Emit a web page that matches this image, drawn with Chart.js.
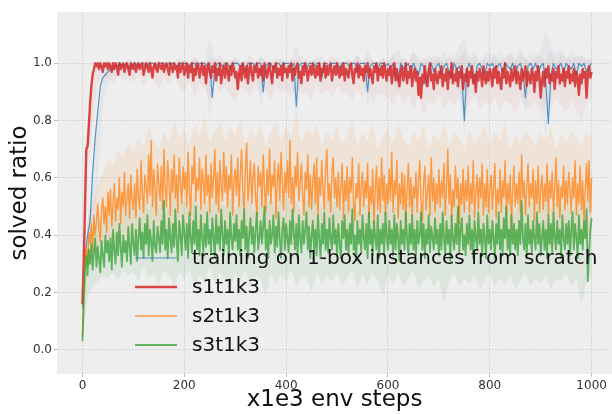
<!DOCTYPE html>
<html>
<head>
<meta charset="utf-8">
<script src="https://cdn.jsdelivr.net/npm/chart.js@4/dist/chart.umd.min.js"></script>
<style>
  body { margin: 0; background: #fff; }
</style>
</head>
<body>
<canvas id="chart" width="612" height="414"></canvas>
<script>
// x-achse: steg (x1e3 env steps). s-serierna var 2.5:e steg, scratch var 5:e, band var 10:e
const denseStep = 2.5;
const scratchStep = 5;
const bandStep = 10;
const xTicks = [0, 200, 400, 600, 800, 1000];
const yTicks = [0.0, 0.2, 0.4, 0.6, 0.8, 1.0];
const labels = ['training on 1-box instances from scratch', 's1t1k3', 's2t1k3', 's3t1k3'];

// medelvärden
const scratch = [
  0.15,0.33,0.40,0.45,0.62,0.74,0.83,0.92,0.95,0.96,0.97,0.98,
  0.98,0.99,0.99,1.0,0.99,1.0,0.99,0.98,1.0,1.0,
  0.99,1.0,1.0,0.99,1.0,1.0,1.0,0.99,1.0,1.0,
  1.0,0.99,1.0,1.0,1.0,0.99,1.0,1.0,1.0,
  1.0,0.99,1.0,1.0,0.98,1.0,1.0,1.0,0.99,1.0,
  0.88,0.98,1.0,1.0,0.99,1.0,1.0,0.98,1.0,1.0,
  1.0,0.99,1.0,0.97,1.0,1.0,1.0,0.99,1.0,1.0,
  0.90,0.99,1.0,1.0,0.98,1.0,1.0,0.99,1.0,1.0,
  1.0,0.99,1.0,0.85,0.99,1.0,1.0,0.98,1.0,1.0,
  0.99,1.0,1.0,0.95,1.0,1.0,0.99,1.0,1.0,1.0,
  0.98,1.0,1.0,1.0,0.99,1.0,1.0,0.97,1.0,1.0,
  1.0,0.90,0.99,1.0,1.0,0.98,1.0,1.0,0.99,1.0,
  0.98,1.0,0.96,0.94,1.0,0.98,0.99,1.0,0.97,1.0,
  0.98,0.96,1.0,0.99,0.92,0.98,1.0,0.97,0.99,1.0,
  0.96,0.99,1.0,0.97,0.95,1.0,0.98,0.99,0.96,0.80,
  0.98,1.0,0.97,0.93,0.99,1.0,0.98,0.96,1.0,0.99,
  1.0,0.98,0.99,1.0,0.97,1.0,0.99,0.98,1.0,0.96,
  0.99,1.0,0.97,0.88,0.99,1.0,0.98,1.0,0.97,0.99,
  1.0,0.93,0.79,0.96,1.0,0.98,0.99,1.0,0.97,1.0,
  0.99,0.98,1.0,0.96,1.0,0.99,1.0,0.97,0.99,1.0
];
const s1t1k3 = [
  0.16,
  0.30,0.50,0.70,0.71,0.78,0.86,0.92,0.96,0.98,1.0,0.99,1.0,0.98,1.0,0.99,0.97,1.0,0.99,1.0,0.98,
  1.0,0.99,0.97,1.0,0.98,1.0,0.99,0.96,1.0,0.98,0.99,1.0,0.97,0.99,1.0,0.98,0.96,1.0,0.99,0.98,
  1.0,0.97,0.99,1.0,0.98,0.99,1.0,0.96,0.98,1.0,0.99,0.97,1.0,0.98,0.95,0.99,1.0,0.98,0.97,1.0,
  0.99,0.98,1.0,0.97,0.99,1.0,0.98,0.96,1.0,0.99,0.97,1.0,0.98,0.99,0.95,1.0,0.97,0.99,1.0,0.96,
  0.98,1.0,0.95,0.99,0.97,1.0,0.94,0.98,0.96,1.0,0.99,0.95,0.98,1.0,0.96,0.99,0.93,0.98,1.0,0.97,
  0.95,0.99,0.97,1.0,0.94,0.98,0.96,1.0,0.93,0.97,0.99,0.95,1.0,0.97,0.94,0.99,0.96,1.0,0.98,0.95,
  0.97,0.91,0.96,0.99,0.94,1.0,0.97,0.95,0.99,0.93,0.98,1.0,0.96,0.94,0.99,0.97,1.0,0.95,0.98,0.96,
  0.99,0.94,1.0,0.97,0.95,0.98,1.0,0.96,0.93,0.99,0.97,1.0,0.95,0.98,0.96,0.99,0.94,1.0,0.97,0.98,
  0.95,0.99,0.97,1.0,0.94,0.98,0.96,0.99,1.0,0.95,0.97,0.93,0.99,0.96,1.0,0.98,0.94,0.97,0.99,0.96,
  1.0,0.97,0.95,0.99,0.96,1.0,0.94,0.98,0.97,1.0,0.95,0.99,0.96,0.98,1.0,0.94,0.97,0.99,0.96,1.0,
  0.97,0.95,0.99,0.96,1.0,0.94,0.98,0.97,0.95,0.99,1.0,0.96,0.93,0.98,0.97,1.0,0.95,0.99,0.96,0.98,
  0.94,0.99,0.97,1.0,0.95,0.98,0.96,0.93,0.99,0.97,1.0,0.94,0.98,0.96,0.99,0.95,1.0,0.97,0.94,0.98,
  0.96,0.99,0.93,0.97,1.0,0.94,0.98,0.95,0.92,0.97,0.99,0.94,0.96,1.0,0.93,0.97,0.95,0.99,0.92,0.96,
  0.98,0.94,0.97,0.89,0.95,0.88,0.96,0.93,0.99,0.95,0.92,0.97,1.0,0.94,0.96,0.91,0.98,0.95,0.93,0.97,
  0.95,0.99,0.92,0.96,0.94,0.98,0.91,0.97,0.95,1.0,0.93,0.96,0.94,0.98,0.92,0.97,0.95,0.99,0.91,0.96,
  0.94,0.98,0.92,0.97,0.95,0.99,0.93,0.96,0.90,0.97,0.94,0.98,0.96,0.92,0.99,0.95,0.93,0.97,0.94,0.98,
  0.96,0.92,0.98,0.95,0.99,0.93,0.97,0.94,0.91,0.98,0.95,1.0,0.93,0.97,0.95,0.92,0.98,0.94,0.96,0.99,
  0.93,0.97,0.95,0.91,0.98,0.94,0.96,0.99,0.92,0.97,0.95,0.93,0.98,0.96,0.90,0.97,0.94,0.99,0.95,0.88,
  0.94,0.97,0.92,0.98,0.95,0.99,0.93,0.96,0.94,0.98,0.91,0.97,0.95,0.99,0.93,0.96,0.94,0.98,0.92,0.97,
  0.95,0.99,0.93,0.96,0.94,0.98,0.92,0.97,0.95,0.89,0.96,0.93,0.98,0.95,0.97,0.88,0.96,0.99,0.95,0.97
];
const s2t1k3 = [
  0.05,
  0.20,0.32,0.36,0.30,0.41,0.37,0.44,0.35,0.47,0.40,0.45,0.51,0.42,0.38,0.49,0.53,0.44,0.50,0.41,0.55,
  0.47,0.56,0.43,0.51,0.58,0.45,0.53,0.49,0.60,0.44,0.55,0.50,0.62,0.47,0.53,0.58,0.46,0.61,0.52,0.49,
  0.58,0.46,0.63,0.53,0.49,0.66,0.55,0.48,0.61,0.57,0.51,0.68,0.54,0.73,0.50,0.63,0.56,0.47,0.65,0.58,
  0.52,0.64,0.49,0.70,0.57,0.50,0.66,0.59,0.47,0.63,0.55,0.68,0.53,0.61,0.48,0.67,0.58,0.51,0.64,0.56,
  0.62,0.50,0.69,0.55,0.47,0.64,0.58,0.71,0.52,0.60,0.56,0.67,0.49,0.63,0.59,0.51,0.68,0.54,0.61,0.48,
  0.65,0.53,0.60,0.70,0.51,0.62,0.48,0.66,0.57,0.52,0.69,0.55,0.64,0.50,0.61,0.56,0.68,0.47,0.59,0.63,
  0.54,0.67,0.50,0.61,0.70,0.55,0.49,0.63,0.72,0.52,0.58,0.66,0.51,0.60,0.65,0.53,0.47,0.64,0.57,0.62,
  0.50,0.68,0.56,0.48,0.63,0.54,0.70,0.51,0.61,0.57,0.66,0.46,0.59,0.65,0.52,0.69,0.58,0.49,0.62,0.55,
  0.66,0.53,0.73,0.51,0.60,0.48,0.64,0.57,0.69,0.52,0.58,0.65,0.54,0.47,0.62,0.56,0.68,0.50,0.61,0.49,
  0.59,0.65,0.51,0.67,0.47,0.60,0.54,0.66,0.56,0.49,0.63,0.70,0.52,0.58,0.48,0.62,0.67,0.53,0.60,0.50,
  0.62,0.49,0.57,0.65,0.46,0.59,0.52,0.64,0.48,0.60,0.55,0.67,0.51,0.45,0.58,0.53,0.65,0.47,0.57,0.62,
  0.50,0.59,0.53,0.65,0.46,0.57,0.51,0.63,0.44,0.56,0.64,0.49,0.60,0.48,0.67,0.52,0.61,0.47,0.58,0.51,
  0.63,0.52,0.69,0.48,0.59,0.54,0.66,0.46,0.58,0.51,0.62,0.49,0.61,0.45,0.56,0.65,0.50,0.60,0.47,0.57,
  0.53,0.62,0.48,0.59,0.66,0.51,0.45,0.58,0.64,0.49,0.55,0.61,0.47,0.67,0.52,0.60,0.48,0.58,0.51,0.63,
  0.50,0.59,0.53,0.65,0.47,0.57,0.70,0.51,0.61,0.46,0.56,0.50,0.64,0.53,0.60,0.44,0.58,0.51,0.63,0.48,
  0.59,0.52,0.64,0.48,0.58,0.51,0.66,0.46,0.55,0.61,0.49,0.60,0.53,0.65,0.47,0.58,0.50,0.63,0.48,0.56,
  0.61,0.49,0.57,0.65,0.46,0.56,0.51,0.63,0.48,0.59,0.53,0.66,0.47,0.58,0.51,0.61,0.44,0.56,0.64,0.50,
  0.58,0.51,0.62,0.48,0.68,0.53,0.59,0.47,0.56,0.65,0.50,0.58,0.53,0.63,0.45,0.59,0.51,0.64,0.48,0.56,
  0.61,0.49,0.58,0.52,0.65,0.47,0.59,0.53,0.62,0.48,0.56,0.67,0.50,0.59,0.46,0.57,0.53,0.64,0.49,0.59,
  0.51,0.62,0.56,0.48,0.60,0.53,0.66,0.47,0.58,0.51,0.64,0.49,0.59,0.45,0.56,0.65,0.52,0.66,0.48,0.60
];
const s3t1k3 = [
  0.03,
  0.16,0.28,0.33,0.26,0.35,0.30,0.37,0.28,0.34,0.39,0.29,0.36,0.32,0.27,0.38,0.33,0.29,0.40,0.34,0.38,
  0.31,0.39,0.28,0.42,0.35,0.30,0.41,0.33,0.44,0.36,0.29,0.40,0.34,0.38,0.31,0.43,0.36,0.30,0.44,0.37,
  0.33,0.42,0.31,0.39,0.46,0.35,0.41,0.32,0.44,0.37,0.47,0.33,0.42,0.38,0.31,0.45,0.36,0.34,0.43,0.39,
  0.34,0.45,0.37,0.52,0.35,0.42,0.32,0.46,0.39,0.34,0.44,0.36,0.49,0.38,0.31,0.45,0.40,0.33,0.47,0.41,
  0.35,0.44,0.32,0.48,0.39,0.34,0.45,0.37,0.50,0.35,0.42,0.33,0.47,0.39,0.34,0.44,0.36,0.48,0.37,0.42,
  0.34,0.46,0.39,0.32,0.47,0.37,0.43,0.35,0.49,0.40,0.33,0.45,0.37,0.42,0.32,0.48,0.39,0.35,0.44,0.38,
  0.47,0.35,0.42,0.33,0.45,0.39,0.49,0.35,0.43,0.32,0.40,0.46,0.37,0.43,0.34,0.42,0.48,0.35,0.39,0.45,
  0.37,0.43,0.50,0.35,0.42,0.32,0.45,0.37,0.40,0.47,0.34,0.43,0.36,0.48,0.39,0.32,0.42,0.46,0.35,0.44,
  0.39,0.34,0.45,0.37,0.49,0.41,0.35,0.44,0.32,0.47,0.39,0.34,0.45,0.37,0.42,0.48,0.35,0.43,0.32,0.40,
  0.45,0.35,0.42,0.33,0.47,0.39,0.32,0.44,0.37,0.48,0.35,0.42,0.34,0.46,0.39,0.35,0.47,0.37,0.42,0.33,
  0.44,0.37,0.32,0.45,0.39,0.47,0.35,0.42,0.33,0.44,0.37,0.49,0.35,0.40,0.31,0.45,0.37,0.42,0.34,0.47,
  0.39,0.35,0.44,0.32,0.48,0.37,0.42,0.33,0.45,0.39,0.35,0.47,0.32,0.42,0.37,0.44,0.33,0.48,0.39,0.35,
  0.45,0.37,0.42,0.33,0.47,0.35,0.44,0.39,0.31,0.45,0.37,0.42,0.35,0.48,0.39,0.33,0.44,0.37,0.47,0.35,
  0.42,0.33,0.45,0.37,0.40,0.48,0.35,0.44,0.32,0.42,0.37,0.47,0.34,0.43,0.39,0.35,0.46,0.37,0.42,0.33,
  0.44,0.35,0.48,0.39,0.33,0.45,0.37,0.42,0.31,0.47,0.39,0.35,0.44,0.37,0.50,0.34,0.42,0.46,0.35,0.40,
  0.33,0.44,0.37,0.47,0.35,0.42,0.32,0.45,0.39,0.35,0.48,0.37,0.42,0.33,0.44,0.39,0.32,0.47,0.37,0.42,
  0.35,0.45,0.39,0.32,0.44,0.37,0.48,0.35,0.42,0.33,0.46,0.39,0.50,0.35,0.42,0.33,0.47,0.37,0.44,0.35,
  0.42,0.33,0.45,0.37,0.52,0.39,0.35,0.44,0.32,0.47,0.37,0.42,0.34,0.45,0.39,0.35,0.48,0.37,0.44,0.33,
  0.39,0.45,0.35,0.42,0.32,0.47,0.37,0.44,0.34,0.48,0.39,0.35,0.45,0.37,0.42,0.32,0.47,0.39,0.35,0.44,
  0.37,0.45,0.33,0.42,0.48,0.35,0.44,0.39,0.32,0.47,0.37,0.42,0.35,0.45,0.39,0.49,0.24,0.34,0.42,0.46
];

// spridningsband (övre/undre kant), var 10:e steg
const scratchHi = [
  0.18,0.45,0.62,0.82,0.95,0.99,1.0,1.01,1.0,1.01,
  1.01,1.0,1.01,1.0,1.0,1.01,1.0,1.01,1.0,1.0,
  1.01,1.0,1.02,1.0,1.01,1.09,1.02,1.0,1.01,1.0,
  1.02,1.0,1.01,1.0,1.01,1.03,1.0,1.01,1.0,1.02,
  1.0,1.01,1.07,1.0,1.02,1.0,1.01,1.03,1.0,1.01,
  1.02,1.0,1.01,1.0,1.03,1.0,1.05,1.01,1.0,1.02,
  1.0,1.03,1.05,1.01,1.0,1.04,1.02,1.0,1.03,1.01,
  1.02,1.04,1.01,1.03,1.06,1.09,1.02,1.04,1.01,1.03,
  1.04,1.02,1.05,1.01,1.03,1.02,1.06,1.01,1.04,1.02,
  1.05,1.12,1.06,1.03,1.05,1.02,1.04,1.01,1.03,1.02,
  1.01
];
const scratchLo = [
  0.12,0.30,0.35,0.58,0.85,0.93,0.96,0.98,0.97,0.98,
  0.98,0.99,0.98,0.97,0.99,0.98,0.97,0.99,0.98,0.99,
  0.98,0.97,0.95,0.99,0.97,0.80,0.95,0.98,0.96,0.98,
  0.96,0.98,0.97,0.95,0.98,0.84,0.97,0.96,0.98,0.97,
  0.96,0.98,0.78,0.97,0.95,0.98,0.96,0.92,0.98,0.97,
  0.95,0.98,0.96,0.97,0.94,0.98,0.84,0.96,0.97,0.95,
  0.97,0.94,0.89,0.96,0.98,0.92,0.95,0.97,0.90,0.96,
  0.94,0.91,0.96,0.93,0.90,0.74,0.95,0.92,0.96,0.93,
  0.92,0.95,0.90,0.94,0.96,0.91,0.93,0.82,0.95,0.92,
  0.90,0.72,0.88,0.93,0.91,0.95,0.92,0.94,0.90,0.93,
  0.95
];
const s1Hi = [
  0.20,0.78,0.95,1.01,1.0,1.01,1.0,1.01,1.0,1.01,
  1.0,1.01,1.0,1.02,1.0,1.01,1.0,1.01,1.0,1.02,
  1.01,1.0,1.02,1.01,1.0,1.02,1.01,1.03,1.0,1.01,
  1.02,1.0,1.01,1.03,1.0,1.02,1.01,1.0,1.02,1.01,
  1.0,1.02,1.01,1.03,1.0,1.01,1.02,1.0,1.01,1.03,
  1.01,1.0,1.02,1.01,1.03,1.0,1.02,1.01,1.0,1.02,
  1.01,1.03,1.0,1.02,1.01,1.04,1.0,1.02,1.01,1.03,
  1.02,1.0,1.03,1.01,1.02,1.04,1.01,1.03,1.0,1.02,
  1.01,1.03,1.0,1.02,1.04,1.01,1.03,1.02,1.0,1.03,
  1.02,1.01,1.04,1.0,1.03,1.02,1.01,1.03,1.02,1.01,
  1.02
];
const s1Lo = [
  0.12,0.62,0.78,0.93,0.94,0.95,0.93,0.96,0.94,0.95,
  0.93,0.96,0.92,0.95,0.94,0.91,0.95,0.93,0.96,0.92,
  0.90,0.94,0.88,0.93,0.91,0.87,0.93,0.90,0.92,0.89,
  0.86,0.92,0.90,0.88,0.93,0.89,0.91,0.87,0.92,0.90,
  0.91,0.88,0.92,0.89,0.90,0.87,0.93,0.89,0.91,0.88,
  0.92,0.89,0.90,0.87,0.91,0.88,0.92,0.86,0.90,0.89,
  0.88,0.85,0.90,0.86,0.89,0.84,0.88,0.82,0.87,0.85,
  0.89,0.84,0.87,0.85,0.88,0.83,0.86,0.89,0.84,0.87,
  0.85,0.88,0.83,0.87,0.86,0.82,0.88,0.85,0.84,0.87,
  0.82,0.86,0.84,0.88,0.85,0.83,0.87,0.84,0.80,0.86,
  0.88
];
const s2Hi = [
  0.05,0.45,0.52,0.58,0.62,0.66,0.64,0.70,0.67,0.72,
  0.69,0.74,0.71,0.78,0.73,0.70,0.76,0.72,0.80,0.74,
  0.77,0.71,0.79,0.74,0.82,0.72,0.76,0.80,0.73,0.78,
  0.75,0.81,0.72,0.77,0.74,0.79,0.71,0.76,0.80,0.73,
  0.78,0.74,0.82,0.72,0.77,0.75,0.79,0.71,0.76,0.73,
  0.78,0.72,0.75,0.80,0.71,0.76,0.73,0.79,0.70,0.75,
  0.77,0.72,0.79,0.74,0.71,0.76,0.73,0.78,0.70,0.75,
  0.73,0.79,0.71,0.76,0.74,0.70,0.77,0.72,0.75,0.78,
  0.71,0.76,0.73,0.79,0.70,0.75,0.72,0.77,0.74,0.71,
  0.76,0.73,0.78,0.70,0.75,0.72,0.77,0.74,0.71,0.76,
  0.74
];
const s2Lo = [
  0.05,0.28,0.32,0.35,0.37,0.36,0.39,0.37,0.40,0.38,
  0.41,0.39,0.42,0.38,0.43,0.40,0.44,0.39,0.42,0.41,
  0.43,0.40,0.44,0.38,0.42,0.45,0.39,0.43,0.41,0.44,
  0.40,0.43,0.38,0.42,0.45,0.40,0.43,0.39,0.44,0.41,
  0.42,0.39,0.44,0.40,0.43,0.38,0.42,0.45,0.40,0.43,
  0.39,0.42,0.37,0.41,0.44,0.38,0.42,0.36,0.40,0.43,
  0.38,0.41,0.36,0.42,0.39,0.37,0.41,0.35,0.40,0.38,
  0.42,0.37,0.40,0.36,0.41,0.38,0.35,0.40,0.37,0.41,
  0.38,0.36,0.41,0.37,0.40,0.35,0.39,0.42,0.36,0.40,
  0.37,0.41,0.35,0.39,0.38,0.42,0.36,0.40,0.37,0.39,
  0.41
];
const s3Hi = [
  0.04,0.38,0.42,0.45,0.47,0.46,0.49,0.47,0.50,0.48,
  0.51,0.48,0.52,0.49,0.54,0.50,0.53,0.49,0.55,0.51,
  0.52,0.49,0.54,0.50,0.53,0.48,0.55,0.51,0.50,0.53,
  0.49,0.54,0.51,0.52,0.48,0.55,0.50,0.53,0.49,0.52,
  0.54,0.50,0.52,0.48,0.53,0.51,0.55,0.49,0.52,0.50,
  0.53,0.49,0.51,0.54,0.48,0.52,0.50,0.53,0.49,0.51,
  0.52,0.48,0.54,0.50,0.51,0.53,0.49,0.52,0.50,0.54,
  0.50,0.53,0.49,0.52,0.55,0.50,0.51,0.48,0.53,0.50,
  0.52,0.49,0.54,0.50,0.51,0.48,0.53,0.50,0.52,0.49,
  0.51,0.54,0.49,0.52,0.50,0.53,0.48,0.51,0.50,0.52,
  0.53
];
const s3Lo = [
  0.02,0.18,0.22,0.24,0.26,0.25,0.27,0.24,0.28,0.26,
  0.27,0.24,0.29,0.25,0.27,0.23,0.28,0.26,0.22,0.27,
  0.25,0.28,0.22,0.26,0.24,0.29,0.23,0.27,0.25,0.21,
  0.27,0.24,0.28,0.22,0.26,0.25,0.18,0.27,0.23,0.26,
  0.24,0.28,0.22,0.26,0.25,0.20,0.27,0.23,0.26,0.24,
  0.27,0.22,0.25,0.28,0.21,0.26,0.23,0.27,0.24,0.19,
  0.26,0.23,0.27,0.22,0.25,0.28,0.21,0.24,0.26,0.22,
  0.25,0.16,0.24,0.27,0.22,0.25,0.23,0.26,0.21,0.24,
  0.27,0.22,0.25,0.23,0.26,0.21,0.24,0.27,0.22,0.25,
  0.23,0.26,0.21,0.25,0.24,0.27,0.22,0.25,0.16,0.23,
  0.26
];

const font = 'DejaVu Sans';

//gör om en lista till punkter {x, y}
function pts(arr, step) {
  return arr.map((v, i) => ({ x: i * step, y: v }));
}

// färg, linjebredd och band per serie
const series = [
  { label: labels[0], data: scratch, step: scratchStep, hi: scratchHi, lo: scratchLo, line: 'rgba(31,119,180,0.75)', band: 'rgba(31,119,180,0.05)', width: 1.2 },
  { label: labels[1], data: s1t1k3, step: denseStep, hi: s1Hi, lo: s1Lo, line: 'rgba(214,39,40,0.85)', band: 'rgba(214,39,40,0.06)', width: 2.4 },
  { label: labels[2], data: s2t1k3, step: denseStep, hi: s2Hi, lo: s2Lo, line: 'rgba(255,127,14,0.75)', band: 'rgba(255,127,14,0.10)', width: 1.4 },
  { label: labels[3], data: s3t1k3, step: denseStep, hi: s3Hi, lo: s3Lo, line: 'rgba(44,160,44,0.72)', band: 'rgba(44,160,44,0.09)', width: 1.8 }
];

const datasets = [];
series.forEach((s, k) => {
  datasets.push({
    label: s.label,
    data: pts(s.data, s.step),
    borderColor: s.line,
    borderWidth: s.width,
    borderJoinStyle: 'round',
    pointRadius: 0,
    fill: false,
    order: 4 - k
  });
});
series.forEach(s => {
  const idx = datasets.length;
  datasets.push({
    label: s.label + ' hi',
    data: pts(s.hi, bandStep),
    borderWidth: 0,
    pointRadius: 0,
    backgroundColor: s.band,
    fill: idx + 1,
    order: 10
  });
  datasets.push({
    label: s.label + ' lo',
    data: pts(s.lo, bandStep),
    borderWidth: 0,
    pointRadius: 0,
    fill: false,
    order: 10
  });
});

// grå bakgrund i plotytan
const bgPlugin = {
  id: 'bg',
  beforeDraw(chart) {
    const { ctx, chartArea: a } = chart;
    ctx.save();
    ctx.fillStyle = '#eeeeee';
    ctx.fillRect(a.left, a.top, a.right - a.left, a.bottom - a.top);
    ctx.restore();
  }
};

// legend inuti plotytan, utan ram
const legendPlugin = {
  id: 'innerLegend',
  afterDatasetsDraw(chart) {
    const ctx = chart.ctx;
    ctx.save();
    ctx.font = '20px "' + font + '"';
    ctx.textBaseline = 'middle';
    series.forEach((s, k) => {
      const y = 258 + k * 29;
      ctx.strokeStyle = s.line;
      ctx.lineWidth = s.width;
      ctx.beginPath();
      ctx.moveTo(135, y);
      ctx.lineTo(177, y);
      ctx.stroke();
      ctx.fillStyle = '#111';
      ctx.fillText(s.label, 192, y + 1);
    });
    ctx.restore();
  }
};

const gridOpts = { color: '#c6c6c6', lineWidth: 0.8, tickLength: 3, tickColor: '#aaaaaa' };

new Chart(document.getElementById('chart'), {
  type: 'line',
  data: { datasets },
  options: {
    responsive: false,
    animation: false,
    devicePixelRatio: 1,
    layout: { padding: { top: 12, right: 0, left: 0, bottom: 0 } },
    plugins: { legend: { display: false }, tooltip: { enabled: false } },
    scales: {
      x: {
        type: 'linear',
        min: -50,
        max: 1040,
        afterBuildTicks: s => { s.ticks = xTicks.map(v => ({ value: v })); },
        afterFit: s => { s.height = 40; },
        grid: gridOpts,
        border: { display: false, dash: [1.5, 1.5] },
        ticks: { font: { family: font, size: 12 }, color: '#333', padding: 2, maxRotation: 0, callback: v => String(v) },
        title: { display: true, text: 'x1e3 env steps', font: { family: font, size: 23 }, color: '#111', padding: { top: 0, bottom: 0 } }
      },
      y: {
        min: -0.084,
        max: 1.179,
        afterBuildTicks: s => { s.ticks = yTicks.map(v => ({ value: v })); },
        afterFit: s => { s.width = 57; },
        grid: gridOpts,
        border: { display: false, dash: [1.5, 1.5] },
        ticks: { font: { family: font, size: 12 }, color: '#333', padding: 2, callback: v => v.toFixed(1) },
        title: { display: true, text: 'solved ratio', font: { family: font, size: 23 }, color: '#111', padding: { top: 6, bottom: 0 } }
      }
    }
  },
  plugins: [bgPlugin, legendPlugin]
});
</script>
</body>
</html>
